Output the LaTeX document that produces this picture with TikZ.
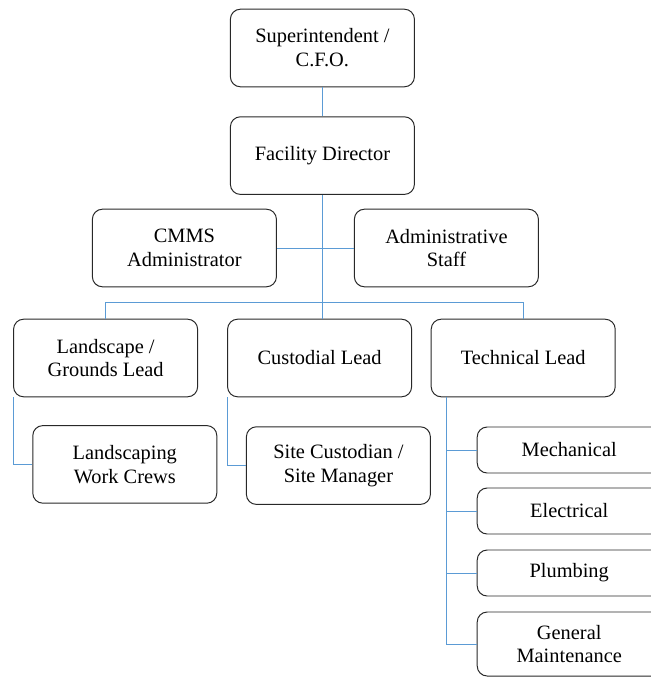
\documentclass[tikz,border=0pt]{standalone}
\usepackage{fontspec}
\setmainfont{Liberation Serif}
\usepackage{xcolor}
\usepackage{tikz}
\definecolor{lineblue}{RGB}{91,155,213}
\definecolor{boxgray}{RGB}{40,40,40}
\tikzstyle{post} = [rectangle, rounded corners=0.25cm, minimum width=4.6cm, minimum height=1.94cm, text centered, align=center, draw=boxgray, line width=0.7pt, font=\fontsize{14.5}{17}\selectfont]
\tikzstyle{trade} = [post, minimum height=1.15cm]
\tikzstyle{link} = [draw=lineblue, line width=0.7pt]

\begin{document}
\begin{tikzpicture}
        \useasboundingbox (0,0) rectangle (16.25,-16.975);
        \node[post] (sup) at (8.06,-1.2) {Superintendent /\\C.F.O.};
        \node[post,below of=sup,yshift=-1.69cm] (fac) {Facility Director};
        \node[post,below of=fac,yshift=-1.31cm,xshift=-3.45cm] (cmms) {CMMS\\Administrator};
        \node[post,below of=fac,yshift=-1.31cm,xshift=3.1cm] (admin) {Administrative\\Staff};
        \node[post,below of=cmms,yshift=-1.75cm,xshift=-1.97cm] (land) {Landscape /\\Grounds Lead};
        \node[post,below of=cmms,yshift=-1.75cm,xshift=3.38cm] (cust) {Custodial Lead};
        \node[post,below of=admin,yshift=-1.75cm,xshift=1.92cm] (tech) {Technical Lead};
        \node[post,below of=land,yshift=-1.66cm,xshift=0.48cm] (crews) {Landscaping\\Work Crews};
        \node[post,below of=cust,yshift=-1.69cm,xshift=0.47cm] (site) {Site Custodian /\\Site Manager};
        \node[trade,below of=tech,yshift=-1.3cm,xshift=1.15cm] (mech) {Mechanical};
        \node[trade,below of=mech,yshift=-0.525cm] (elec) {Electrical};
        \node[trade,below of=elec,yshift=-0.55cm] (plumb) {Plumbing};
        \node[trade,below of=plumb,yshift=-0.775cm,minimum height=1.6cm] (gm) {General\\Maintenance};
        \coordinate (tbus) at ([xshift=0.39cm]tech.south west);

        \draw [link] (sup) -- (fac);
        \draw [link] (fac.south) -- (fac.south |- cust.north);
        \draw [link] (cmms.east) -- (admin.west);
        \draw [link] (land.north) -- ++(0,0.4) -| (tech.north);
        \draw [link] (land.south west) |- (crews.west);
        \draw [link] (cust.south west) |- (site.west);
        \draw [link] (tbus) |- (gm.west);
        \foreach \t in {mech,elec,plumb}
            \draw [link] (tbus) |- (\t.west);
    \end{tikzpicture}
\end{document}
